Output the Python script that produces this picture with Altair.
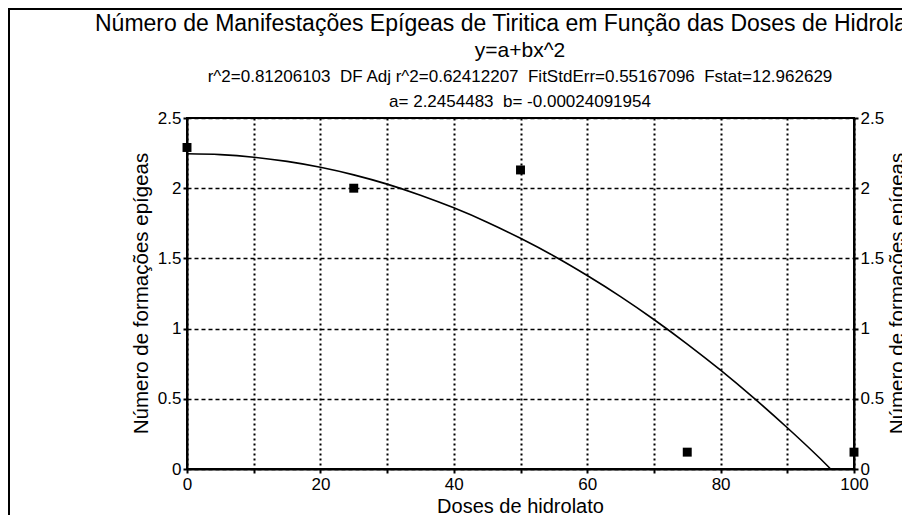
import altair as alt
import pandas as pd

# ---- data ----
doses = [0, 25, 50, 75, 100]
formacoes = [2.29, 2.0, 2.13, 0.12, 0.12]

# fitted curve (y = a + b x^2)
curva_x = [0, 5, 10, 15, 20, 25, 30, 35, 40, 45, 50, 55, 60, 65, 70, 75, 80, 85, 90, 95, 96.5]
curva_y = [2.245, 2.239, 2.221, 2.191, 2.149, 2.095, 2.029, 1.950, 1.860, 1.758, 1.643,
           1.517, 1.378, 1.228, 1.065, 0.890, 0.704, 0.505, 0.294, 0.071, 0.0]

x_ticks = [0, 10, 20, 30, 40, 50, 60, 70, 80, 90, 100]
y_ticks = [0, 0.5, 1, 1.5, 2, 2.5]

titulo = "Número de Manifestações Epígeas de Tiritica em Função das Doses de Hidrolato"
linha_eq = "y=a+bx^2"
linha_stats = "r^2=0.81206103\u00a0 DF Adj r^2=0.62412207\u00a0 FitStdErr=0.55167096\u00a0 Fstat=12.962629"
linha_coef = "a= 2.2454483\u00a0 b= -0.00024091954"
x_title = "Doses de hidrolato"
y_title = "Número de formações epígeas"

FONT = "Liberation Sans"
W, H = 667, 351

pts = pd.DataFrame({"dose": doses, "num": formacoes})
curve = pd.DataFrame({"dose": curva_x, "num": curva_y})

xscale = alt.Scale(domain=[0, 100], nice=False, zero=False)
yscale = alt.Scale(domain=[0, 2.5], nice=False, zero=False)

x_axis = alt.Axis(
    values=x_ticks,
    labelExpr="datum.value % 20 === 0 ? datum.label : ''",
    labelFlush=False,
    grid=True, gridDash=[2, 3], gridColor="black", gridWidth=2, gridOpacity=1,
    domainColor="black", domainWidth=2,
    tickColor="black", tickSize=4, tickWidth=2,
    labelFont=FONT, labelFontSize=17, labelColor="black", labelPadding=3,
    title=x_title, titleFont=FONT, titleFontSize=20, titleFontWeight="normal",
    titleColor="black", titleX=333, titleY=43, titleAlign="center",
    titleBaseline="alphabetic",
)

def y_axis(orient, grid, tx):
    return alt.Axis(
        orient=orient, values=y_ticks, format="~g", labelFlush=False,
        grid=grid, gridDash=[4, 3], gridColor="black", gridWidth=1.5, gridOpacity=1,
        domainColor="black", domainWidth=2,
        tickColor="black", tickSize=4, tickWidth=2,
        labelFont=FONT, labelFontSize=17, labelColor="black", labelPadding=2,
        title=y_title, titleFont=FONT, titleFontSize=20.5, titleFontWeight="normal",
        titleColor="black", titleX=tx, titleY=175, titleAngle=-90,
        titleAlign="center", titleBaseline="middle",
    )

points = alt.Chart(pts).mark_square(color="black", size=80, opacity=1).encode(
    x=alt.X("dose:Q", scale=xscale, axis=x_axis),
    y=alt.Y("num:Q", scale=yscale, axis=y_axis("left", True, -46)),
)

right_axis = alt.Chart(pts).mark_square(opacity=0).encode(
    x=alt.X("dose:Q", scale=xscale, axis=x_axis),
    y=alt.Y("num:Q", scale=yscale, axis=y_axis("right", False, 43)),
)

line = alt.Chart(curve).mark_line(color="black", strokeWidth=1.6, interpolate="monotone").encode(
    x=alt.X("dose:Q", scale=xscale, axis=x_axis),
    y=alt.Y("num:Q", scale=yscale, axis=None),
)

def text_layer(s, x, y, size, align):
    return alt.Chart(pd.DataFrame({"t": [s]})).mark_text(
        font=FONT, fontSize=size, color="black", align=align, baseline="alphabetic"
    ).encode(x=alt.value(x), y=alt.value(y), text="t:N")

t1 = text_layer(titulo, -92, -87, 23, "left")
t2 = text_layer(linha_eq, 333, -61, 21, "center")
t3 = text_layer(linha_stats, 333, -36, 17, "center")
t4 = text_layer(linha_coef, 333, -11, 17, "center")

border = alt.Chart(pd.DataFrame({"k": [0]})).mark_rule(color="black", strokeWidth=2).encode(
    x=alt.value(-178), x2=alt.value(720), y=alt.value(-109)
)
border_left = alt.Chart(pd.DataFrame({"k": [0]})).mark_rule(color="black", strokeWidth=2).encode(
    x=alt.value(-178), y=alt.value(-110), y2=alt.value(420)
)

chart = alt.layer(
    points, right_axis, line, t1, t2, t3, t4, border, border_left
).resolve_axis(y="independent").properties(
    width=W, height=H,
    autosize=alt.AutoSizeParams(type="none"),
    padding={"left": 179, "top": 110, "right": 48, "bottom": 46},
    background="white",
).configure_view(stroke="black", strokeWidth=2)

chart.save("out.html", embed_options={"renderer": "svg", "actions": False})
